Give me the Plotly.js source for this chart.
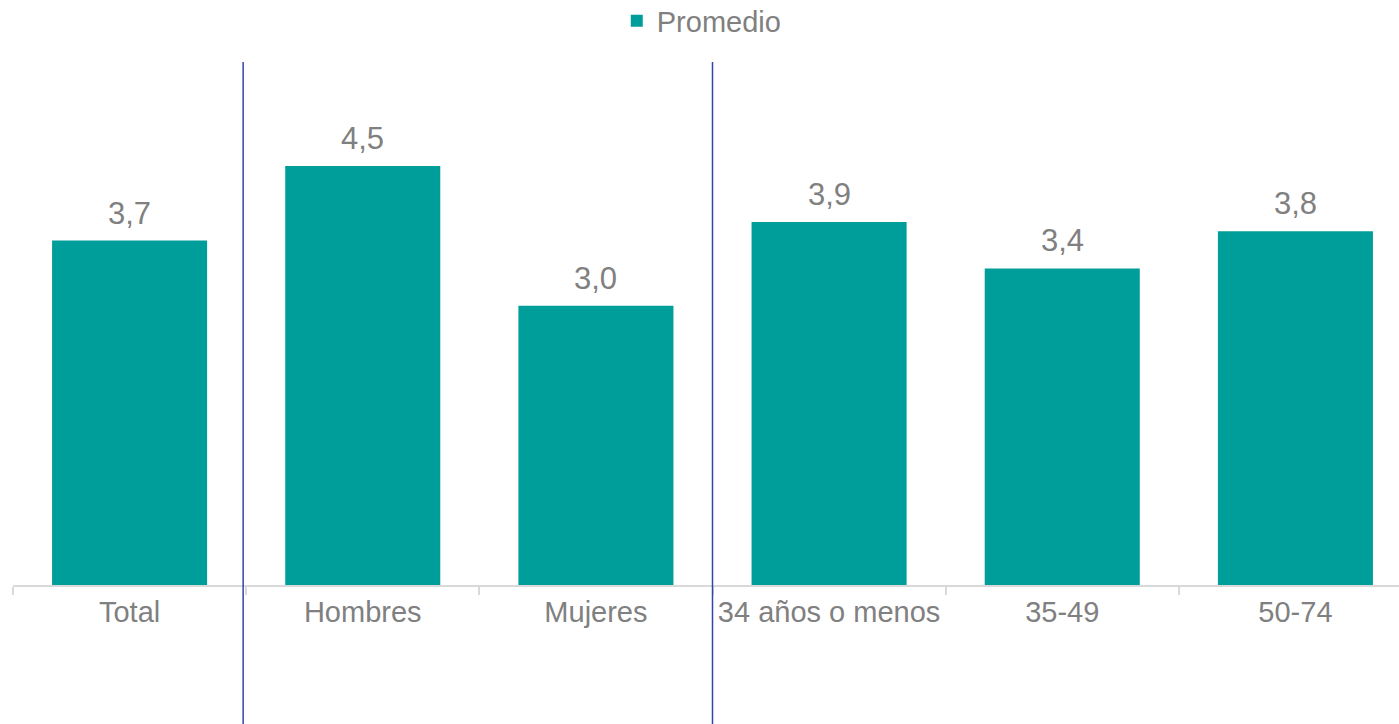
<!DOCTYPE html>
<html>
<head>
<meta charset="utf-8">
<script src="https://cdn.plot.ly/plotly-3.0.1.min.js"></script>
<style>
html,body{margin:0;padding:0;overflow:hidden;background:#fff;}
#chart{width:1412px;height:724px;}
</style>
</head>
<body>
<div id="chart"></div>
<script>
const categories = ["Total", "Hombres", "Mujeres", "34 años o menos", "35-49", "50-74"];
const promedio = [3.7, 4.5, 3.0, 3.9, 3.4, 3.8];
const seriesName = "Promedio";
const separatorsAfter = [0.487, 2.5];

const barColor = "#009E9A";
const textColor = "#808080";
const fontFam = "Liberation Sans, Arial, sans-serif";

const trace = {
  type: "bar",
  x: categories,
  y: promedio,
  name: seriesName,
  marker: {color: barColor},
  hoverinfo: "skip"
};

const annotations = promedio.map((v, i) => ({
  x: categories[i], y: v, xref: "x", yref: "y",
  text: v.toFixed(1).replace(".", ","),
  showarrow: false, yanchor: "bottom", yshift: 8,
  font: {family: fontFam, size: 31, color: textColor}
}));

const shapes = separatorsAfter.map(p => ({
  type: "line", xref: "x", yref: "paper",
  x0: p, x1: p, y0: -0.266, y1: 1,
  line: {color: "#3344AA", width: 1.5}
}));

const layout = {
  width: 1412, height: 724,
  margin: {l: 13, r: 0, t: 62, b: 139, autoexpand: false},
  paper_bgcolor: "#fff", plot_bgcolor: "#fff",
  bargap: 0.335,
  showlegend: true,
  legend: {
    orientation: "h", x: 0.497, xref: "container", xanchor: "center",
    y: 0.971, yref: "container", yanchor: "middle",
    font: {family: fontFam, size: 29, color: textColor},
    itemclick: false
  },
  xaxis: {
    type: "category",
    range: [-0.5, 5.5],
    tickangle: 0,
    automargin: false,
    tickson: "boundaries", ticks: "outside", ticklen: 8, tickcolor: "#D9D9D9", tickwidth: 2,
    ticklabelstandoff: 0,
    showline: true, linecolor: "#D9D9D9", linewidth: 2,
    showgrid: false, zeroline: false,
    tickfont: {family: fontFam, size: 29, color: textColor}
  },
  yaxis: {
    range: [0, 5.618], visible: false, showgrid: false, zeroline: false, automargin: false
  },
  annotations: annotations,
  shapes: shapes
};

Plotly.newPlot("chart", [trace], layout, {displayModeBar: false, staticPlot: true});
</script>
</body>
</html>
